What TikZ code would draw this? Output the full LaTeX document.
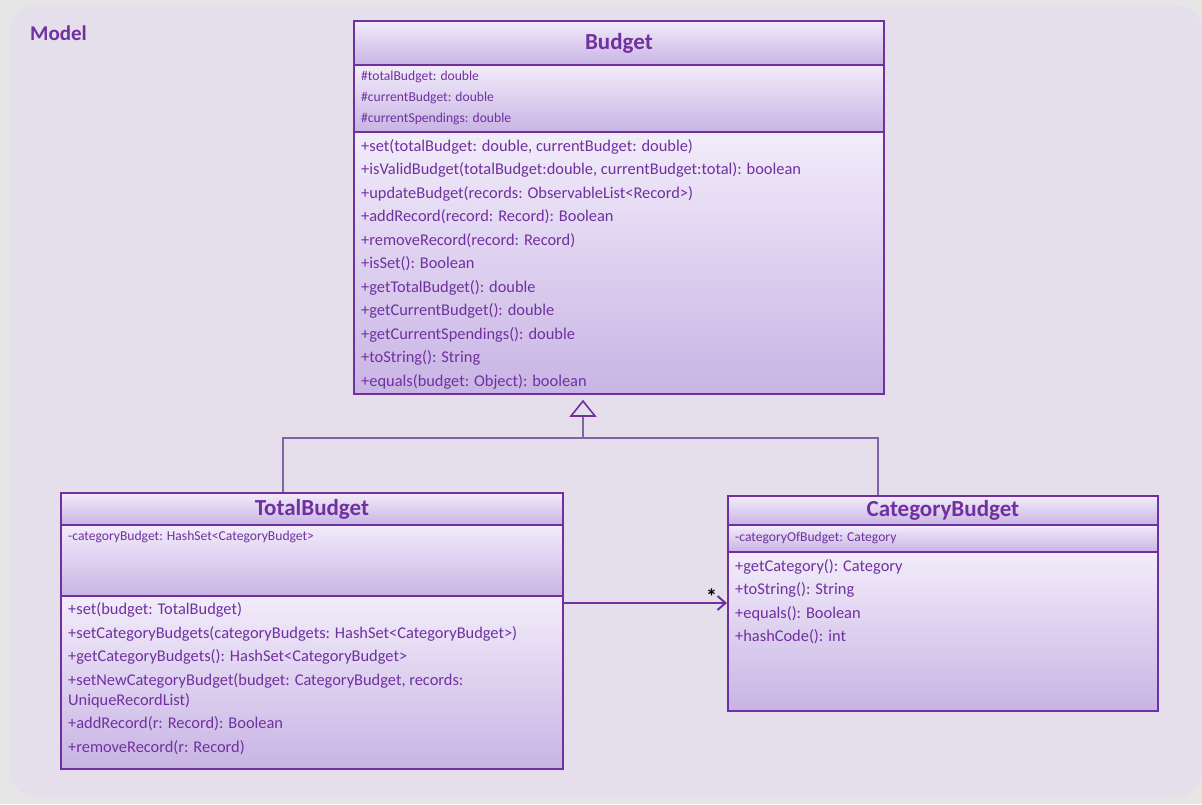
\documentclass[tikz,border=0pt]{standalone}
\usepackage{fontspec}
\setmainfont{Carlito}
\usetikzlibrary{arrows.meta,positioning}
\definecolor{umlpurple}{RGB}{112,48,160}
\definecolor{umlline}{RGB}{128,100,168}
\definecolor{boxtop}{RGB}{242,236,250}
\definecolor{boxbot}{RGB}{200,180,228}
\definecolor{pagebg}{RGB}{230,230,230}
\definecolor{modelbg}{RGB}{229,223,236}

\tikzset{
  part/.style={draw=umlpurple, line width=1.8pt, top color=boxtop, bottom color=boxbot, anchor=north west, inner sep=0pt},
  classname/.style={font=\fontsize{23}{25}\selectfont\bfseries, text=umlpurple},
  attr/.style={font=\fontsize{13.6}{15}\selectfont, text=umlpurple, anchor=base west, inner sep=0pt},
  meth/.style={font=\fontsize{16.4}{18}\selectfont, text=umlpurple, anchor=base west, inner sep=0pt},
  link/.style={draw=umlline, line width=2pt},
  assoc/.style={draw=umlpurple, line width=2pt, -{Straight Barb[length=8pt, width=14pt, line width=2pt]}},
}

\begin{document}
\begin{tikzpicture}[x=1pt, y=-1pt]

  % fond
  \fill[pagebg] (0,0) rectangle (1202,804);
  \fill[modelbg, rounded corners=26pt] (10,5) rectangle (1202,797);
  \node[anchor=base west, inner sep=0pt, text=umlpurple, font=\fontsize{21}{23}\selectfont\bfseries] (model) at (30,40) {Model};

  % Budget
  \node[part, minimum width=530pt, minimum height=44pt] (budget) at (353,20) {};
  \node[classname] (budgetname) at (budget.center) {Budget};
  \node[part, minimum width=530pt, minimum height=67pt] (budgetattr) at (353,64) {};
  \node[part, minimum width=530pt, minimum height=262pt] (budgetops) at (353,131) {};
  \foreach \t [count=\i] in {\#totalBudget: double, \#currentBudget: double, \#currentSpendings: double}
    \node[attr] (budgetattr\i) at (361, 59+21*\i) {\t};
  \foreach \t [count=\i] in {
      {+set(totalBudget: double, currentBudget: double)},
      {+isValidBudget(totalBudget:double, currentBudget:total): boolean},
      +updateBudget(records: ObservableList<Record>),
      +addRecord(record: Record): Boolean,
      +removeRecord(record: Record),
      +isSet(): Boolean,
      +getTotalBudget(): double,
      +getCurrentBudget(): double,
      +getCurrentSpendings(): double,
      +toString(): String,
      +equals(budget: Object): boolean}
    \node[meth] (budgetop\i) at (361, 127.5+23.5*\i) {\t};

  % TotalBudget
  \node[part, minimum width=502pt, minimum height=32pt] (total) at (60,492) {};
  \node[classname] (totalname) at (total.center) {TotalBudget};
  \node[part, minimum width=502pt, minimum height=71pt] (totalattr) at (60,524) {};
  \node[part, minimum width=502pt, minimum height=173pt] (totalops) at (60,595) {};
  \node[attr] (totalattr1) at (68,540) {-categoryBudget: HashSet<CategoryBudget>};
  \foreach \t/\y [count=\i] in {
      +set(budget: TotalBudget)/614,
      +setCategoryBudgets(categoryBudgets: HashSet<CategoryBudget>)/638,
      +getCategoryBudgets(): HashSet<CategoryBudget>/661,
      {+setNewCategoryBudget(budget: CategoryBudget, records:}/685,
      UniqueRecordList)/705,
      +addRecord(r: Record): Boolean/728,
      +removeRecord(r: Record)/752}
    \node[meth] (totalop\i) at (68,\y) {\t};

  % CategoryBudget
  \node[part, minimum width=430pt, minimum height=29pt] (cat) at (727,495) {};
  \node[classname] (catname) at (cat.center) {CategoryBudget};
  \node[part, minimum width=430pt, minimum height=27pt] (catattr) at (727,524) {};
  \node[part, minimum width=430pt, minimum height=159pt] (catops) at (727,551) {};
  \node[attr] (catattr1) at (735,541) {-categoryOfBudget: Category};
  \foreach \t [count=\i] in {+getCategory(): Category, +toString(): String, +equals(): Boolean, +hashCode(): int}
    \node[meth] (catop\i) at (735, 547.5+23.5*\i) {\t};

  % heritage
  \coordinate (joint) at (583,438);
  \draw[link] ([xshift=-29pt]total.north) |- (joint);
  \draw[link] ([xshift=-65pt]cat.north) |- (joint);
  \draw[link, shorten >=5pt, -{Triangle[open, length=17pt, width=27pt, line width=1.6pt, color=umlpurple]}] (joint) -- (joint |- budgetops.south);

  % association
  \draw[assoc] ([yshift=-8pt]totalops.north east) -- ([yshift=-8pt]totalops.north east -| catops.west)
    node[pos=1, anchor=south east, xshift=-9pt, yshift=-2pt, text=black, font=\fontsize{22}{24}\selectfont\bfseries, inner sep=0pt] (mult) {*};

\end{tikzpicture}
\end{document}
